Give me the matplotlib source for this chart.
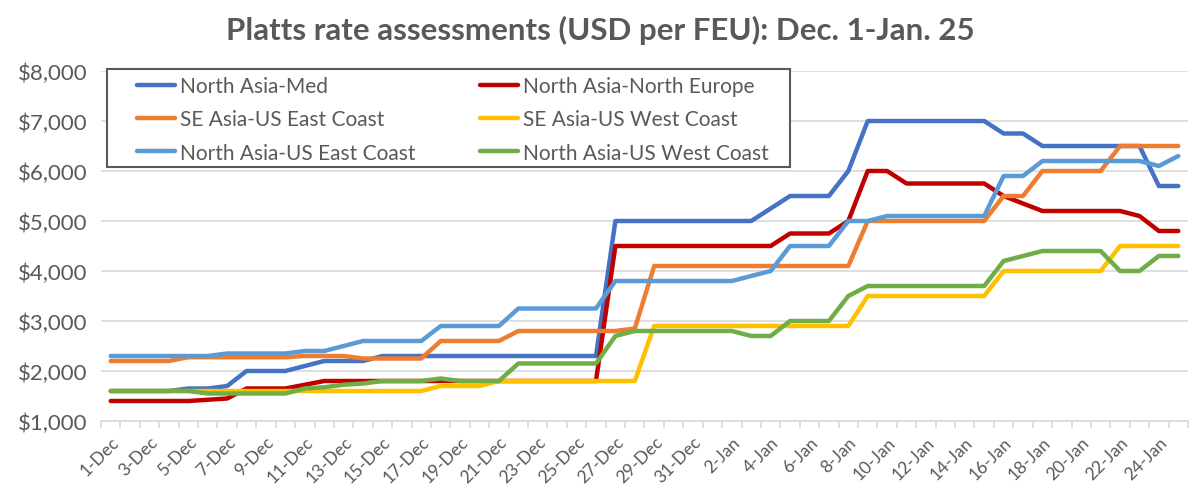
import matplotlib
matplotlib.use('Agg')
import numpy as np
import matplotlib.pyplot as plt
from matplotlib.patches import Rectangle
from matplotlib.ticker import FuncFormatter

plt.rcParams['font.family'] = ['Lato', 'DejaVu Sans']

# daily categories, 1-Dec .. 25-Jan
dates = [f'{d}-Dec' for d in range(1, 32)] + [f'{d}-Jan' for d in range(1, 26)]

north_asia_med = [1600, 1600, 1600, 1600, 1650, 1650, 1700, 2000, 2000, 2000,
                  2100, 2200, 2200, 2200, 2300, 2300, 2300, 2300, 2300, 2300,
                  2300, 2300, 2300, 2300, 2300, 2300, 5000, 5000, 5000, 5000,
                  5000, 5000, 5000, 5000, 5250, 5500, 5500, 5500, 6000, 7000,
                  7000, 7000, 7000, 7000, 7000, 7000, 6750, 6750, 6500, 6500,
                  6500, 6500, 6500, 6500, 5700, 5700]
north_asia_neur = [1400, 1400, 1400, 1400, 1400, 1425, 1450, 1650, 1650, 1650,
                   1725, 1800, 1800, 1800, 1800, 1800, 1800, 1800, 1800, 1800,
                   1800, 1800, 1800, 1800, 1800, 1800, 4500, 4500, 4500, 4500,
                   4500, 4500, 4500, 4500, 4500, 4750, 4750, 4750, 5000, 6000,
                   6000, 5750, 5750, 5750, 5750, 5750, 5500, 5350, 5200, 5200,
                   5200, 5200, 5200, 5100, 4800, 4800]
se_asia_usec = [2200, 2200, 2200, 2200, 2275, 2275, 2275, 2275, 2275, 2275,
                2300, 2300, 2300, 2250, 2250, 2250, 2250, 2600, 2600, 2600,
                2600, 2800, 2800, 2800, 2800, 2800, 2800, 2850, 4100, 4100,
                4100, 4100, 4100, 4100, 4100, 4100, 4100, 4100, 4100, 5000,
                5000, 5000, 5000, 5000, 5000, 5000, 5500, 5500, 6000, 6000,
                6000, 6000, 6500, 6500, 6500, 6500]
se_asia_uswc = [1600, 1600, 1600, 1600, 1600, 1600, 1600, 1600, 1600, 1600,
                1600, 1600, 1600, 1600, 1600, 1600, 1600, 1700, 1700, 1700,
                1800, 1800, 1800, 1800, 1800, 1800, 1800, 1800, 2900, 2900,
                2900, 2900, 2900, 2900, 2900, 2900, 2900, 2900, 2900, 3500,
                3500, 3500, 3500, 3500, 3500, 3500, 4000, 4000, 4000, 4000,
                4000, 4000, 4500, 4500, 4500, 4500]
north_asia_usec = [2300, 2300, 2300, 2300, 2300, 2300, 2350, 2350, 2350, 2350,
                   2400, 2400, 2500, 2600, 2600, 2600, 2600, 2900, 2900, 2900,
                   2900, 3250, 3250, 3250, 3250, 3250, 3800, 3800, 3800, 3800,
                   3800, 3800, 3800, 3900, 4000, 4500, 4500, 4500, 5000, 5000,
                   5100, 5100, 5100, 5100, 5100, 5100, 5900, 5900, 6200, 6200,
                   6200, 6200, 6200, 6200, 6100, 6300]
north_asia_uswc = [1600, 1600, 1600, 1600, 1600, 1550, 1550, 1550, 1550, 1550,
                   1650, 1675, 1725, 1750, 1800, 1800, 1800, 1850, 1800, 1800,
                   1800, 2150, 2150, 2150, 2150, 2150, 2700, 2800, 2800, 2800,
                   2800, 2800, 2800, 2700, 2700, 3000, 3000, 3000, 3500, 3700,
                   3700, 3700, 3700, 3700, 3700, 3700, 4200, 4300, 4400, 4400,
                   4400, 4400, 4000, 4000, 4300, 4300]

names = ['North Asia-Med', 'North Asia-North Europe', 'SE Asia-US East Coast',
         'SE Asia-US West Coast', 'North Asia-US East Coast', 'North Asia-US West Coast']
colors = ['#4472C4', '#C00000', '#ED7D31', '#FFC000', '#5B9BD5', '#70AD47']
values = [north_asia_med, north_asia_neur, se_asia_usec,
          se_asia_uswc, north_asia_usec, north_asia_uswc]

grey = '#595959'
W, H = 1200, 485
fig = plt.figure(figsize=(12, 4.85), dpi=100)
ax = fig.add_axes([101 / W, 1 - 422 / H, (1188 - 101) / W, 350 / H])

x = np.arange(len(dates))
lines = []
for name, vals, c in zip(names, values, colors):
    ln, = ax.plot(x, vals, color=c, lw=3.2, label=name,
                  solid_joinstyle='round', solid_capstyle='round')
    lines.append(ln)

ax.set_xlim(-0.5, len(dates) - 0.5)
ax.set_ylim(1000, 8000)
ax.set_yticks(range(1000, 8001, 1000))
ax.yaxis.set_major_formatter(FuncFormatter(lambda v, p: f'${v:,.0f}'))
ax.grid(axis='y', color='#D9D9D9', lw=1.2)
ax.set_axisbelow(True)
for s in ['top', 'right', 'left']:
    ax.spines[s].set_visible(False)
ax.spines['bottom'].set_color('#D9D9D9')
ax.spines['bottom'].set_linewidth(1.2)
ax.tick_params(axis='y', length=0, labelsize=16, labelcolor=grey, pad=10)

ax.set_xticks(x[::2])
ax.set_xticklabels(dates[::2], rotation=45, ha='right', va='top',
                   rotation_mode='anchor')
ax.set_xticks(np.arange(-0.5, len(dates), 1), minor=True)
ax.tick_params(axis='x', which='major', length=0, labelsize=12.5, labelcolor=grey, pad=9)
ax.tick_params(axis='x', which='minor', length=5, color='#D9D9D9', width=1.2)

fig.text(0.5, 1 - 30 / H, 'Platts rate assessments (USD per FEU): Dec. 1-Jan. 25',
         ha='center', va='center', fontsize=22.5, fontweight='bold', color=grey)

# legend box
box = Rectangle((107 / W, 1 - 168 / H), 683 / W, 98 / H, transform=fig.transFigure,
                facecolor='white', edgecolor=grey, lw=1.5, zorder=10, clip_on=False)
ax.add_patch(box)
order = [0, 2, 4, 1, 3, 5]
leg = ax.legend([lines[i] for i in order], [names[i] for i in order], ncol=2,
                loc='upper left', bbox_to_anchor=(137 / W, 1 - 77 / H),
                bbox_transform=fig.transFigure, frameon=False, fontsize=15,
                labelcolor=grey, borderpad=0, borderaxespad=0, handlelength=1.83,
                handletextpad=0.24, labelspacing=0.64, columnspacing=3.1)
leg.set_zorder(11)

fig.savefig('out.png', dpi=100)
